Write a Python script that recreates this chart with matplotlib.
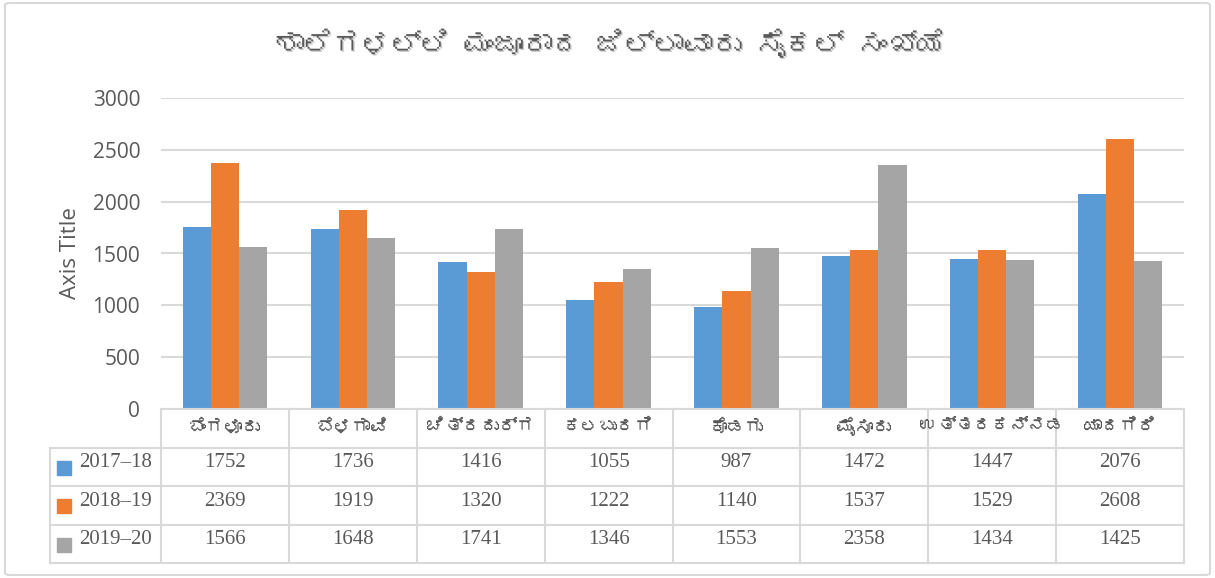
import numpy as np
import matplotlib
matplotlib.use("Agg")
import matplotlib.pyplot as plt
from matplotlib import font_manager
from matplotlib.ft2font import FT2Font
from matplotlib.patches import FancyBboxPatch
import matplotlib.patheffects as pe

# DATA----------------------------------------------------------------------
title = "ಶಾಲೆಗಳಲ್ಲಿ ಮಂಜೂರಾದ ಜಿಲ್ಲಾವಾರು ಸೈಕಲ್ ಸಂಖ್ಯೆ"
districts = ["ಬೆಂಗಳೂರು", "ಬೆಳಗಾವಿ", "ಚಿತ್ರದುರ್ಗ", "ಕಲಬುರಗಿ",
             "ಕೊಡಗು", "ಮೈಸೂರು", "ಉತ್ತರಕನ್ನಡ", "ಯಾದಗಿರಿ"]
years = ["2017–18", "2018–19", "2019–20"]
vals_2017 = [1752, 1736, 1416, 1055, 987, 1472, 1447, 2076]
vals_2018 = [2369, 1919, 1320, 1222, 1140, 1537, 1529, 2608]
vals_2019 = [1566, 1648, 1741, 1346, 1553, 2358, 1434, 1425]
yticks = [0, 500, 1000, 1500, 2000, 2500, 3000]

colors = ["#5B9BD5", "#ED7D31", "#A5A5A5"]
grid_col = "#D9D9D9"
text_col = "#595959"


#find a font that can draw kannada, else fall back
def findKannadaFont():
    for f in font_manager.fontManager.ttflist:
        try:
            if ord("ಶ") in FT2Font(f.fname).get_charmap():
                return f.name
        except Exception:
            pass
    return "DejaVu Sans"

kn_font = [findKannadaFont(), "DejaVu Sans"]
sans = ["Open Sans", "DejaVu Sans"]
serif = ["Liberation Serif", "DejaVu Serif"]

W, H = 1215, 578
fig = plt.figure(figsize=(W / 100, H / 100), dpi=100)

#outer chart border
fig.patches.append(FancyBboxPatch((5 / W, 3 / H), 1205 / W, 572 / H,
                                  boxstyle="round,pad=0,rounding_size=0.004",
                                  transform=fig.transFigure, fill=False,
                                  edgecolor=grid_col, linewidth=1.5))

#MAIN BAR AXES---------------------------------------------------------------
left, right, top, bottom = 161, 1184, 98, 409
ax = fig.add_axes([left / W, (H - bottom) / H, (right - left) / W, (bottom - top) / H])
x = np.arange(len(districts))
bw = 0.22
for i, series in enumerate([vals_2017, vals_2018, vals_2019]):
    ax.bar(x + (i - 1) * bw, series, width=bw, color=colors[i], zorder=3)
ax.set_xlim(-0.5, len(districts) - 0.5)
ax.set_ylim(0, 3000)
ax.set_yticks(yticks)
ax.set_yticklabels([str(t) for t in yticks], fontsize=15, color=text_col, family=sans)
ax.tick_params(axis="y", length=0, pad=15)
ax.set_xticks([])
ax.grid(axis="y", color=grid_col, linewidth=1.5, zorder=0)
for s in ax.spines.values():
    s.set_visible(False)
ax.set_ylabel("Axis Title", fontsize=16, color=text_col, family=sans, labelpad=8)

fig.text(0.502, 0.925, title, ha="center", va="center", fontsize=21,
         color=text_col, family=kn_font,
         path_effects=[pe.withSimplePatchShadow(offset=(1, -1), shadow_rgbFace="#BFBFBF", alpha=0.8)])

#DATA TABLE------------------------------------------------------------------
tleft, tbottom = 50, 563
lab_w = (left - tleft) / ((right - left) / len(districts))
tax = fig.add_axes([tleft / W, (H - tbottom) / H, (right - tleft) / W, (tbottom - bottom) / H])
tax.set_xlim(-0.5 - lab_w, len(districts) - 0.5)
tax.set_ylim(4, 0)
tax.axis("off")

lk = dict(color=grid_col, linewidth=1.5, clip_on=False)
#horizontal lines
tax.plot([-0.5, len(districts) - 0.5], [0, 0], **lk)
for r in [1, 2, 3, 4]:
    tax.plot([-0.5 - lab_w, len(districts) - 0.5], [r, r], **lk)
#vertical lines
tax.plot([-0.5 - lab_w, -0.5 - lab_w], [1, 4], **lk)
for c in range(len(districts) + 1):
    tax.plot([c - 0.5, c - 0.5], [0, 4], **lk)

for c, name in enumerate(districts):
    tax.text(c, 0.45, name, ha="center", va="center", fontsize=13,
             color=text_col, family=kn_font)

for r, (yr, series) in enumerate(zip(years, [vals_2017, vals_2018, vals_2019])):
    ry = r + 1.4
    tax.scatter([-0.5 - lab_w + 0.11], [ry + 0.12], marker="s", s=90,
                color=colors[r], clip_on=False)
    tax.text(-0.5 - lab_w + 0.23, ry, yr, ha="left", va="center", fontsize=15,
             color=text_col, family=serif)
    for c, v in enumerate(series):
        tax.text(c, ry, str(v), ha="center", va="center", fontsize=15,
                 color=text_col, family=serif)

fig.savefig("out.png", dpi=100)
